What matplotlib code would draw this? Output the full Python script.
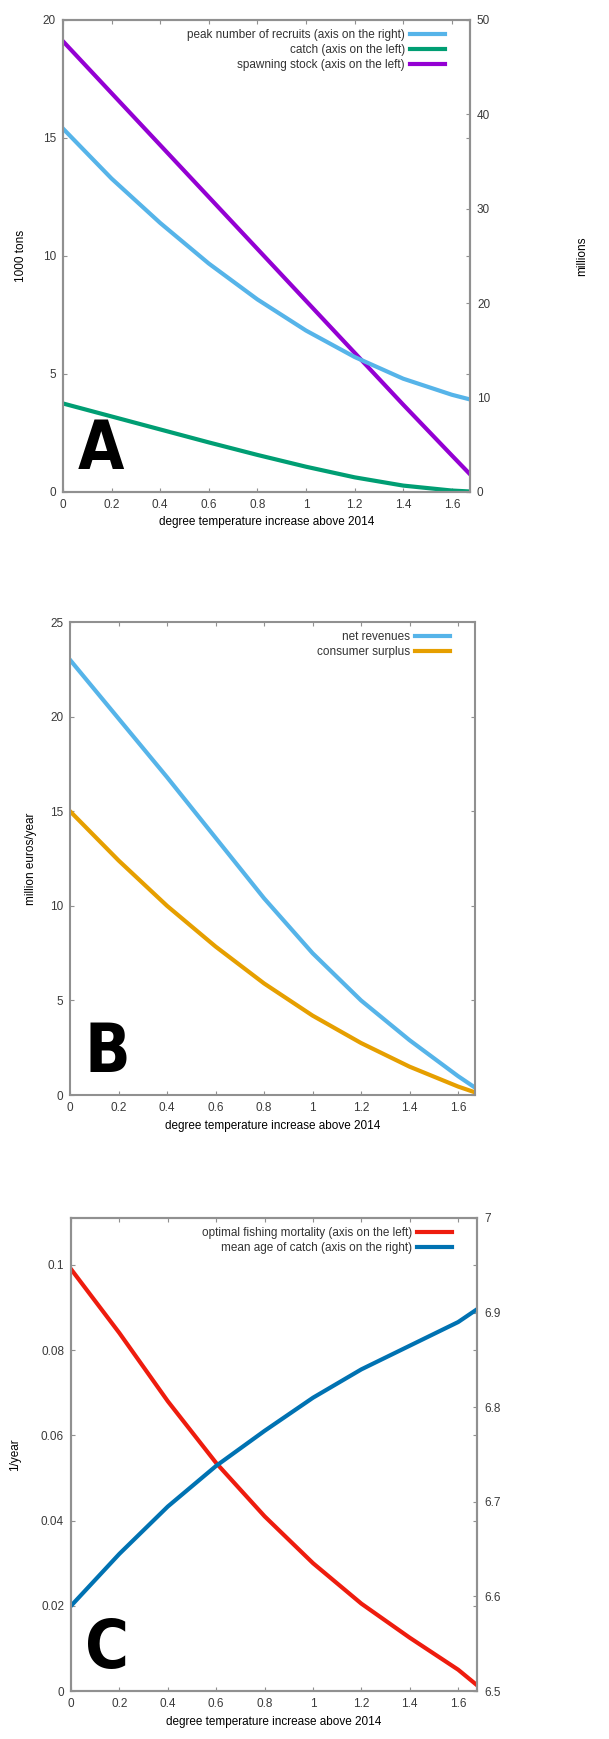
import numpy as np
import matplotlib.pyplot as plt

# =========================
# DATA
# =========================

temp = [0, 0.2, 0.4, 0.6, 0.8, 1.0, 1.2, 1.4, 1.6, 1.675]

# panel A
recruits = [38.5, 33.2, 28.5, 24.2, 20.4, 17.1, 14.3, 12.0, 10.3, 9.8]      # millions (right)
catch = [3.75, 3.2, 2.65, 2.1, 1.57, 1.07, 0.62, 0.27, 0.06, 0.02]          # 1000 tons (left)
spawning = [19.1, 16.9, 14.7, 12.5, 10.3, 8.1, 5.9, 3.7, 1.55, 0.75]        # 1000 tons (left)

# panel B
net_rev = [23.0, 19.9, 16.8, 13.6, 10.4, 7.5, 5.0, 2.9, 1.0, 0.35]
cons_surplus = [15.0, 12.4, 10.0, 7.85, 5.9, 4.2, 2.75, 1.5, 0.45, 0.12]

# panel C
fish_mort = [0.099, 0.084, 0.068, 0.0535, 0.041, 0.030, 0.0205, 0.0125, 0.005, 0.0015]
mean_age = [6.59, 6.645, 6.695, 6.738, 6.775, 6.81, 6.84, 6.865, 6.89, 6.903]

xticks = [0, 0.2, 0.4, 0.6, 0.8, 1, 1.2, 1.4, 1.6]
xticklabels = ["0", "0.2", "0.4", "0.6", "0.8", "1", "1.2", "1.4", "1.6"]
xlabel = "degree temperature increase above 2014"

# =========================
# STYLE
# =========================

plt.rcParams['font.family'] = ['Liberation Sans', 'DejaVu Sans']
plt.rcParams['font.size'] = 8.5
plt.rcParams['text.color'] = '#333333'
plt.rcParams['xtick.color'] = '#909090'
plt.rcParams['ytick.color'] = '#909090'
plt.rcParams['xtick.labelcolor'] = '#3a3a3a'
plt.rcParams['ytick.labelcolor'] = '#3a3a3a'
plt.rcParams['xtick.direction'] = 'in'
plt.rcParams['ytick.direction'] = 'in'

LW = 3.0
FRAME = '#909090'
LEG = dict(loc='upper right', bbox_to_anchor=(0.962, 1.0), frameon=False,
           markerfirst=False, handlelength=3.0, handletextpad=0.4,
           fontsize=8.5, labelspacing=0.25, borderaxespad=0.4)


def frame(ax):
    for s in ax.spines.values():
        s.set_color(FRAME)
        s.set_linewidth(1.5)
    ax.tick_params(length=3, width=0.8, top=True, pad=5)


def letter(ax, txt):
    ax.text(0.035, 0.02, txt, transform=ax.transAxes, fontsize=48,
            fontweight='bold', fontstretch='condensed', color='black',
            ha='left', va='bottom', family=['DejaVu Sans'])


fig = plt.figure(figsize=(6.09, 17.39), dpi=100)

# =========================
# PANEL A
# =========================

axA = fig.add_axes([0.1034, 0.7171, 0.6684, 0.2714])
axA2 = axA.twinx()

l1, = axA2.plot(temp, recruits, color='#56B4E9', lw=LW,
                label="peak number of recruits (axis on the right)")
l2, = axA.plot(temp, catch, color='#009E73', lw=LW,
               label="catch (axis on the left)")
l3, = axA.plot(temp, spawning, color='#9400D3', lw=LW,
               label="spawning stock (axis on the left)")

axA.set_xlim(0, 1.675)
axA.set_ylim(0, 20)
axA2.set_ylim(0, 50)
axA.set_yticks([0, 5, 10, 15, 20])
axA2.set_yticks([0, 10, 20, 30, 40, 50])
axA.set_xticks(xticks)
axA.set_xticklabels(xticklabels)
axA.set_xlabel(xlabel)
axA.set_ylabel("1000 tons", labelpad=11)
axA2.set_ylabel("millions", labelpad=62)
frame(axA)
frame(axA2)
axA.tick_params(right=True)
axA.legend(handles=[l1, l2, l3], **LEG)
letter(axA, "A")

# =========================
# PANEL B
# =========================

axB = fig.add_axes([0.115, 0.3703, 0.665, 0.272])

axB.plot(temp, net_rev, color='#56B4E9', lw=LW, label="net revenues")
axB.plot(temp, cons_surplus, color='#E69F00', lw=LW, label="consumer surplus")

axB.set_xlim(0, 1.67)
axB.set_ylim(0, 25)
axB.set_yticks([0, 5, 10, 15, 20, 25])
axB.set_xticks(xticks)
axB.set_xticklabels(xticklabels)
axB.set_xlabel(xlabel)
axB.set_ylabel("million euros/year", labelpad=9)
frame(axB)
axB.tick_params(right=True)
axB.legend(**LEG)
letter(axB, "B")

# =========================
# PANEL C
# =========================

axC = fig.add_axes([0.1166, 0.0276, 0.6667, 0.272])
axC2 = axC.twinx()

c1, = axC.plot(temp, fish_mort, color='#EE1C0E', lw=LW,
               label="optimal fishing mortality (axis on the left)")
c2, = axC2.plot(temp, mean_age, color='#0072B2', lw=LW,
                label="mean age of catch (axis on the right)")

axC.set_xlim(0, 1.678)
axC.set_ylim(0, 0.111)
axC2.set_ylim(6.5, 7.0)
axC.set_yticks([0, 0.02, 0.04, 0.06, 0.08, 0.1])
axC.set_yticklabels(["0", "0.02", "0.04", "0.06", "0.08", "0.1"])
axC2.set_yticks([6.5, 6.6, 6.7, 6.8, 6.9, 7.0])
axC2.set_yticklabels(["6.5", "6.6", "6.7", "6.8", "6.9", "7"])
axC.set_xticks(xticks)
axC.set_xticklabels(xticklabels)
axC.set_xlabel(xlabel)
axC.set_ylabel("1/year", labelpad=14)
frame(axC)
frame(axC2)
axC.tick_params(right=True)
axC.legend(handles=[c1, c2], **LEG)
letter(axC, "C")

fig.savefig("out.png", dpi=100)
